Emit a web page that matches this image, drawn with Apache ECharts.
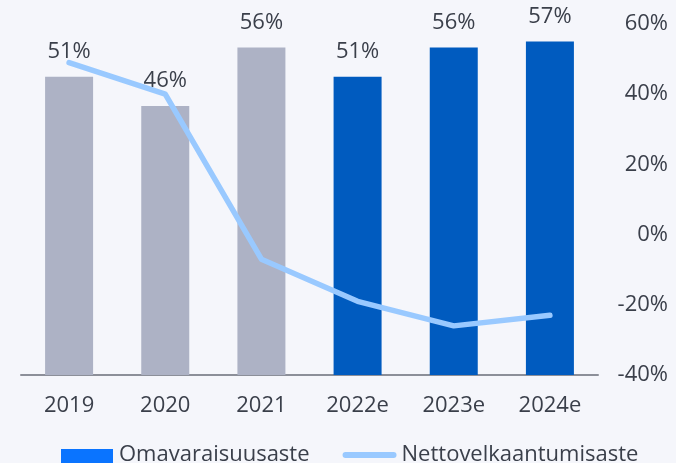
<!DOCTYPE html>
<html>
<head>
<meta charset="utf-8">
<script src="https://cdn.jsdelivr.net/npm/echarts@6/dist/echarts.min.js"></script>
<style>
  html, body { margin: 0; padding: 0; background: #f5f6fb; }
  #chart { width: 676px; height: 463px; }
</style>
</head>
<body>
<div id="chart"></div>
<script>
// Years and the two ratios
const categories = ['2019', '2020', '2021', '2022e', '2023e', '2024e'];
const equityRatio = [51, 46, 56, 51, 56, 57];          // Omavaraisuusaste, %
const gearing = [49, 40, -7, -19, -26, -23];           // Nettovelkaantumisaste, %
const estimateFrom = 3;                                 // first forecast year index
const rightTicks = { min: -40, max: 60, interval: 20 };

const textColor = '#3a3f4a';
const font = '"Open Sans", sans-serif';
const fontSize = 22;

// legend glyphs inside a 54x22 box: hairline slivers pin the box edges,
// so the block sits low and the stroke sits just below the text middle
const blockIcon = 'path://M0,0H54V0.01H0Z M1,5H53V22H1Z';
const strokeIcon = 'path://M0,0H54V0.01H0Z M0,21.99H54V22H0Z M3,8H51A3,3 0 0 1 51,14H3A3,3 0 0 1 3,8Z';

const chart = echarts.init(document.getElementById('chart'), null, { renderer: 'canvas' });

chart.setOption({
  backgroundColor: '#f5f6fb',
  animation: false,
  textStyle: { fontFamily: font },
  grid: { left: 21, right: 78, top: 24, bottom: 88 },
  legend: {
    left: 60,
    top: 444,
    padding: 0,
    itemWidth: 54,
    itemHeight: 22,
    itemGap: 33,
    symbolKeepAspect: true,
    textStyle: { color: textColor, fontSize: fontSize, fontFamily: font },
    data: [
      { name: 'Omavaraisuusaste', icon: blockIcon, itemStyle: { color: '#0a74ff' } },
      { name: 'Nettovelkaantumisaste', icon: strokeIcon, itemStyle: { color: '#99c9ff' } }
    ]
  },
  xAxis: {
    type: 'category',
    data: categories,
    axisLine: { lineStyle: { color: '#8c8f99', width: 2 } },
    axisTick: { show: false },
    axisLabel: { color: textColor, fontSize: fontSize, margin: 20, fontFamily: font }
  },
  yAxis: [
    {
      type: 'value', min: 0, max: 60, show: false, splitLine: { show: false }
    },
    {
      type: 'value',
      position: 'right',
      min: rightTicks.min, max: rightTicks.max, interval: rightTicks.interval,
      splitLine: { show: false },
      axisLine: { show: false },
      axisTick: { show: false },
      axisLabel: {
        color: textColor, fontSize: fontSize, align: 'right', margin: 70, fontFamily: font,
        formatter: v => v + '%'
      }
    }
  ],
  series: [
    {
      name: 'Omavaraisuusaste',
      type: 'bar',
      yAxisIndex: 0,
      barWidth: 48,
      itemStyle: { color: '#0a74ff' },
      label: {
        show: true, position: 'top', distance: 14,
        color: textColor, fontSize: fontSize, fontFamily: font,
        formatter: p => p.value + '%'
      },
      data: equityRatio.map((v, i) => ({
        value: v,
        itemStyle: { color: i < estimateFrom ? '#adb2c5' : '#005bbf' }
      }))
    },
    {
      name: 'Nettovelkaantumisaste',
      type: 'line',
      yAxisIndex: 1,
      symbol: 'none',
      lineStyle: { color: '#99c9ff', width: 5.5, cap: 'round', join: 'round' },
      itemStyle: { color: '#99c9ff' },
      data: gearing
    }
  ]
});
</script>
</body>
</html>
